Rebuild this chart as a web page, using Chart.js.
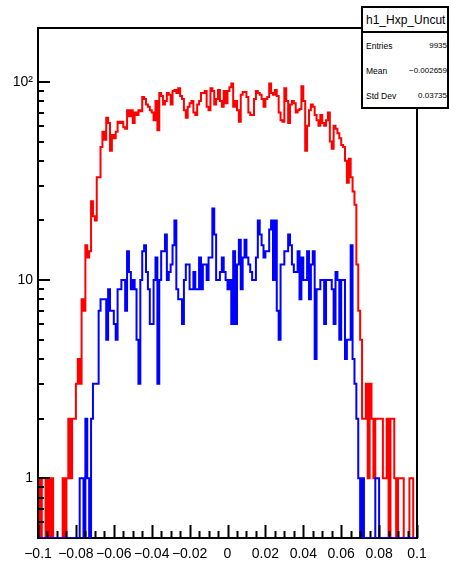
<!DOCTYPE html>
<html>
<head>
<meta charset="utf-8">
<script src="https://cdn.jsdelivr.net/npm/chart.js@4.4.1/dist/chart.umd.min.js"></script>
<style>
html,body{margin:0;padding:0;background:#ffffff;overflow:hidden;}
#wrap{position:relative;width:449px;height:561px;}
#c{position:absolute;left:0;top:0;}
#stats{position:absolute;left:361px;top:6px;width:88px;height:103px;box-sizing:border-box;border:2px solid #000;background:#fff;font-family:"Liberation Sans",Arial,Helvetica,sans-serif;color:#000;}
#stats .title{position:absolute;left:3px;top:5px;font-size:12px;line-height:15px;white-space:nowrap;}
#stats .sep{position:absolute;left:0;right:0;top:23px;height:2px;background:#000;}
#stats .lab{position:absolute;left:3px;font-size:8.5px;line-height:10px;white-space:nowrap;}
#stats .val{position:absolute;right:0;font-size:8px;line-height:10px;white-space:nowrap;text-align:right;}
</style>
</head>
<body>
<div id="wrap">
<canvas id="c" width="449" height="561"></canvas>
<div id="stats">
  <div class="title">h1_Hxp_Uncut</div>
  <div class="sep"></div>
  <div class="lab" style="top:33px">Entries</div><div class="val" style="top:33px">9935</div>
  <div class="lab" style="top:58px">Mean</div><div class="val" style="top:58px">&minus;0.002659</div>
  <div class="lab" style="top:83px">Std Dev</div><div class="val" style="top:83px">0.03735</div>
</div>
</div>
<script>
// ---- axis definitions ----
const xRange = [-0.1, 0.1];
const yRange = [0.5, 187];
const xTickValues = [-0.1, -0.08, -0.06, -0.04, -0.02, 0, 0.02, 0.04, 0.06, 0.08, 0.1];
const xTickLabels = ["\u22120.1", "\u22120.08", "\u22120.06", "\u22120.04", "\u22120.02", "0", "0.02", "0.04", "0.06", "0.08", "0.1"];
const yTickValues = [1, 10, 100];
const yTickLabels = ["1", "10", "10\u00b2"];
const yMinorTicks = [0.6, 0.7, 0.8, 0.9, 2, 3, 4, 5, 6, 7, 8, 9, 20, 30, 40, 50, 60, 70, 80, 90];

// ---- histogram contents (200 bins from -0.1 to 0.1) ----
const redCounts = [
  1,0,1,1,0,1,0,1,0,0,
  0,0,0,1,0,1,2,1,2,2,
  3,4,3,8,7,15,13,14,25,21,
  20,33,33,47,56,51,66,62,45,54,
  52,56,63,62,63,59,58,72,67,72,
  62,70,68,72,71,84,82,77,75,72,
  70,64,80,57,88,85,77,80,88,86,
  77,90,91,88,93,85,82,72,66,75,
  78,80,70,68,77,80,88,88,90,75,
  72,93,90,77,82,91,80,75,90,78,
  90,94,98,75,80,72,63,86,89,89,
  84,70,68,68,82,90,88,86,82,75,
  82,84,98,88,86,91,85,70,64,63,
  93,80,62,77,80,78,70,72,73,95,
  80,45,60,72,77,75,68,64,60,68,
  62,60,64,70,50,46,60,58,55,52,
  48,47,40,31,41,33,28,24,12,7,
  5,2,2,3,1,3,2,1,2,2,
  2,2,1,1,2,0,2,2,1,0,
  1,1,1,0,0,0,1,1,0,0
];
const blueCounts = [
  0,0,0,0,0,0,0,0,0,0,
  0,0,0,0,0,0,0,0,0,0,
  0,0,1,1,0,2,1,0,2,3,
  3,3,7,8,8,8,5,9,7,7,
  6,5,9,9,10,10,7,14,11,9,
  10,9,5,3,10,14,15,11,9,6,
  6,10,13,3,10,14,14,17,10,11,
  12,15,20,9,8,8,6,10,12,12,
  9,9,11,9,9,13,9,12,12,10,
  13,13,23,17,10,10,11,13,11,10,
  9,10,6,14,6,12,16,9,13,16,
  13,12,11,10,10,13,20,17,15,13,
  14,14,18,20,10,20,7,5,12,12,
  14,14,17,15,12,11,11,14,8,13,
  10,10,14,8,12,14,4,9,9,10,
  10,6,10,10,10,9,6,11,10,5,
  10,10,4,5,5,15,4,3,2,1,
  0,1,0,0,0,0,0,0,1,1,
  0,0,0,0,0,0,0,0,0,0,
  0,0,0,0,0,0,0,0,0,0
];

// histogram -> step points at bin edges (empty bins drawn at the frame bottom)
function stepPoints(counts) {
  const n = counts.length;
  const w = (xRange[1] - xRange[0]) / n;
  const pts = counts.map((c, i) => ({ x: xRange[0] + i * w, y: c > 0 ? c : yRange[0] }));
  pts.push({ x: xRange[1], y: pts[n - 1].y });
  return pts;
}

const rootFrame = {
  id: 'rootFrame',
  beforeDatasetsDraw(chart) {
    const { ctx, chartArea: a } = chart;
    ctx.save();
    ctx.strokeStyle = '#000';
    ctx.lineWidth = 2;
    ctx.strokeRect(a.left, a.top, a.right - a.left, a.bottom - a.top);
    ctx.restore();
  },
  afterDatasetsDraw(chart) {
    const { ctx, chartArea: a, scales: { x, y } } = chart;
    ctx.save();
    ctx.strokeStyle = '#000';
    ctx.lineWidth = 2;
    ctx.beginPath();
    yTickValues.forEach(v => { const p = Math.round(y.getPixelForValue(v)); ctx.moveTo(a.left, p); ctx.lineTo(a.left + 12, p); });
    yMinorTicks.forEach(v => { const p = Math.round(y.getPixelForValue(v)); ctx.moveTo(a.left, p); ctx.lineTo(a.left + 6, p); });
    xTickValues.forEach(v => { const p = Math.round(x.getPixelForValue(v)) + 0.5; ctx.moveTo(p, a.bottom); ctx.lineTo(p, a.bottom - 13); });
    for (let k = 0; k <= 40; k++) {
      if (k % 4 === 0) continue;
      const p = Math.round(x.getPixelForValue(xRange[0] + k * 0.005)) + 0.5;
      ctx.moveTo(p, a.bottom); ctx.lineTo(p, a.bottom - 7);
    }
    ctx.stroke();
    ctx.restore();
  }
};

const tickFont = { family: "'Liberation Sans', Arial, Helvetica, sans-serif", size: 14 };

new Chart(document.getElementById('c').getContext('2d'), {
  type: 'line',
  data: {
    datasets: [
      { label: 'blue', data: stepPoints(blueCounts), borderColor: '#0000ff', borderWidth: 2, stepped: 'before', pointRadius: 0, fill: false, order: 0 },
      { label: 'red', data: stepPoints(redCounts), borderColor: '#ff0000', borderWidth: 2, stepped: 'before', pointRadius: 0, fill: false, order: 1 }
    ]
  },
  options: {
    responsive: false,
    animation: false,
    events: [],
    layout: { padding: { top: 28, right: 32, left: 0, bottom: 0 } },
    plugins: { legend: { display: false }, tooltip: { enabled: false } },
    scales: {
      x: {
        type: 'linear', min: xRange[0], max: xRange[1],
        grid: { display: false, drawTicks: false },
        border: { display: false },
        afterBuildTicks: s => { s.ticks = xTickValues.map(v => ({ value: v })); },
        afterFit: s => { s.height = 23; },
        ticks: { autoSkip: false, maxRotation: 0, minRotation: 0, padding: 8, color: '#000', font: tickFont,
          callback: (v, i) => xTickLabels[i] }
      },
      y: {
        type: 'logarithmic', min: yRange[0], max: yRange[1],
        grid: { display: false, drawTicks: false },
        border: { display: false },
        afterBuildTicks: s => { s.ticks = yTickValues.map(v => ({ value: v })); },
        afterFit: s => { s.width = 38; },
        ticks: { autoSkip: false, padding: 5, color: '#000', font: tickFont,
          callback: (v, i) => yTickLabels[i] }
      }
    }
  },
  plugins: [rootFrame]
});
</script>
</body>
</html>
